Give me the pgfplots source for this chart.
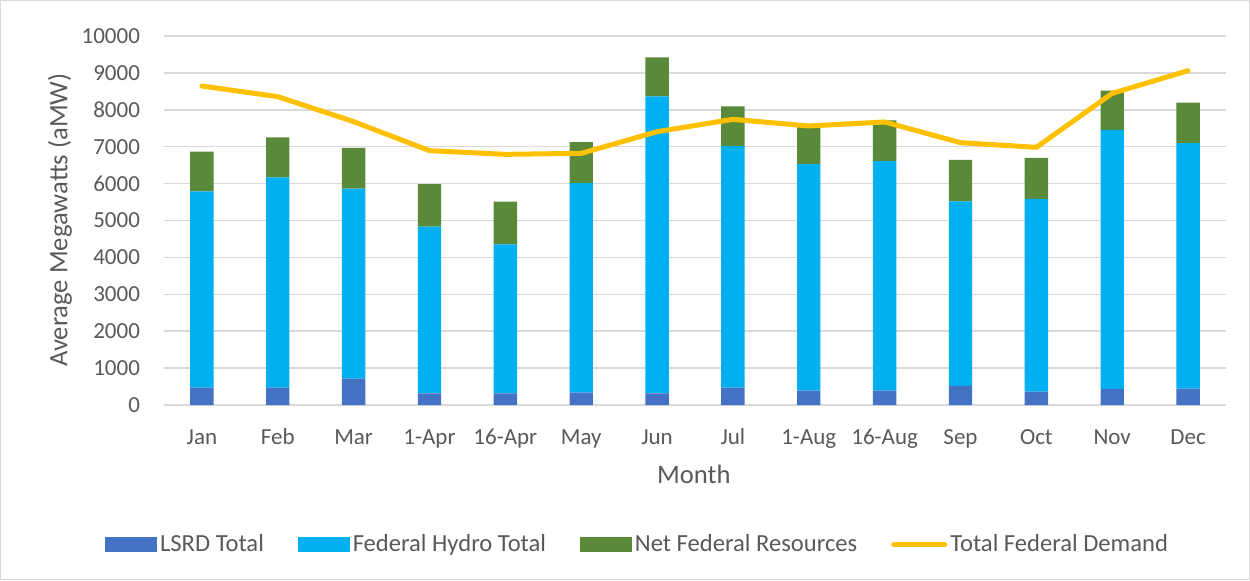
\documentclass[border=0pt]{standalone}
\usepackage{fontspec}
\setmainfont{Carlito}
\usepackage{pgfplots}
\pgfplotsset{compat=1.18}
\definecolor{lsrd}{HTML}{4472C4}
\definecolor{hydro}{HTML}{00B0F0}
\definecolor{netg}{HTML}{588A3A}
\definecolor{dem}{HTML}{FFC000}
\definecolor{txt}{HTML}{595959}
\definecolor{grd}{HTML}{D9D9D9}
\begin{document}
\begin{tikzpicture}
\draw[grd, line width=0.6pt] (0.3pt,0.3pt) rectangle (624.7pt,289.7pt);
\begin{axis}[
  at={(82pt,87.5pt)}, anchor=south west,
  scale only axis, width=531pt, height=184.5pt,
  ybar stacked, bar width=11.7pt,
  xmin=-0.5, xmax=13.5, ymin=0, ymax=10000,
  xtick={0,...,13},
  xticklabels={Jan,Feb,Mar,1-Apr,16-Apr,May,Jun,Jul,1-Aug,16-Aug,Sep,Oct,Nov,Dec},
  ytick={0,1000,...,10000},
  ymajorgrids, grid style={grd, line width=0.75pt},
  axis line style={draw=none}, tick style={draw=none}, major tick length=0pt,
  scaled y ticks=false,
  /pgf/number format/1000 sep={},
  /pgf/number format/assume math mode=true,
  ticklabel style={font=\fontsize{11.5}{13}\selectfont, text=txt},
  yticklabel style={xshift=-8.5pt},
  xticklabel style={anchor=base, yshift=-19.5pt},
  xlabel={Month}, ylabel={Average Megawatts (aMW)},
  label style={font=\fontsize{13.3}{15}\selectfont, text=txt},
  xlabel style={at={(axis description cs:0.499,-0.187)}, anchor=center},
  ylabel style={at={(axis description cs:-0.098,0.501)}, anchor=center},
]
\addplot[fill=lsrd, draw=none] coordinates {(0,470) (1,470) (2,714) (3,316) (4,316) (5,334) (6,316) (7,470) (8,388) (9,388) (10,515) (11,361) (12,434) (13,443)};
\addplot[fill=hydro, draw=none] coordinates {(0,5320) (1,5700) (2,5149) (3,4517) (4,4038) (5,5682) (6,8049) (7,6549) (8,6143) (9,6224) (10,5004) (11,5222) (12,7019) (13,6657)};
\addplot[fill=netg, draw=none] coordinates {(0,1076) (1,1084) (2,1102) (3,1156) (4,1156) (5,1111) (6,1057) (7,1075) (8,1050) (9,1103) (10,1121) (11,1111) (12,1066) (13,1093)};
\end{axis}
\begin{axis}[
  at={(82pt,87.5pt)}, anchor=south west,
  scale only axis, width=531pt, height=184.5pt,
  xmin=-0.5, xmax=13.5, ymin=0, ymax=10000,
  hide axis,
  legend columns=4,
  legend cell align=left,
  legend style={at={(0.4465,-0.379)}, anchor=center, draw=none, fill=none,
    font=\fontsize{12.3}{14}\selectfont, text=txt,
    /tikz/every even column/.append style={column sep=15.5pt},
    nodes={inner sep=1.5pt}},
]
\addlegendimage{legend image code/.code={\fill[lsrd] (0pt,-3.5pt) rectangle (25.5pt,3.5pt);}}
\addlegendentry{LSRD Total}
\addlegendimage{legend image code/.code={\fill[hydro] (0pt,-3.5pt) rectangle (25.5pt,3.5pt);}}
\addlegendentry{Federal Hydro Total}
\addlegendimage{legend image code/.code={\fill[netg] (0pt,-3.5pt) rectangle (25.5pt,3.5pt);}}
\addlegendentry{Net Federal Resources}
\addplot[dem, line width=2.5pt, line join=round, line cap=round,
  legend image code/.code={\draw[dem, line width=2.5pt, line cap=round] (1.5pt,0pt) -- (27pt,0pt);}]
  coordinates {(0,8645) (1,8356) (2,7680) (3,6893) (4,6793) (5,6820) (6,7407) (7,7742) (8,7561) (9,7670) (10,7110) (11,6983) (12,8446) (13,9061)};
\addlegendentry{Total Federal Demand}
\end{axis}
\end{tikzpicture}
\end{document}
